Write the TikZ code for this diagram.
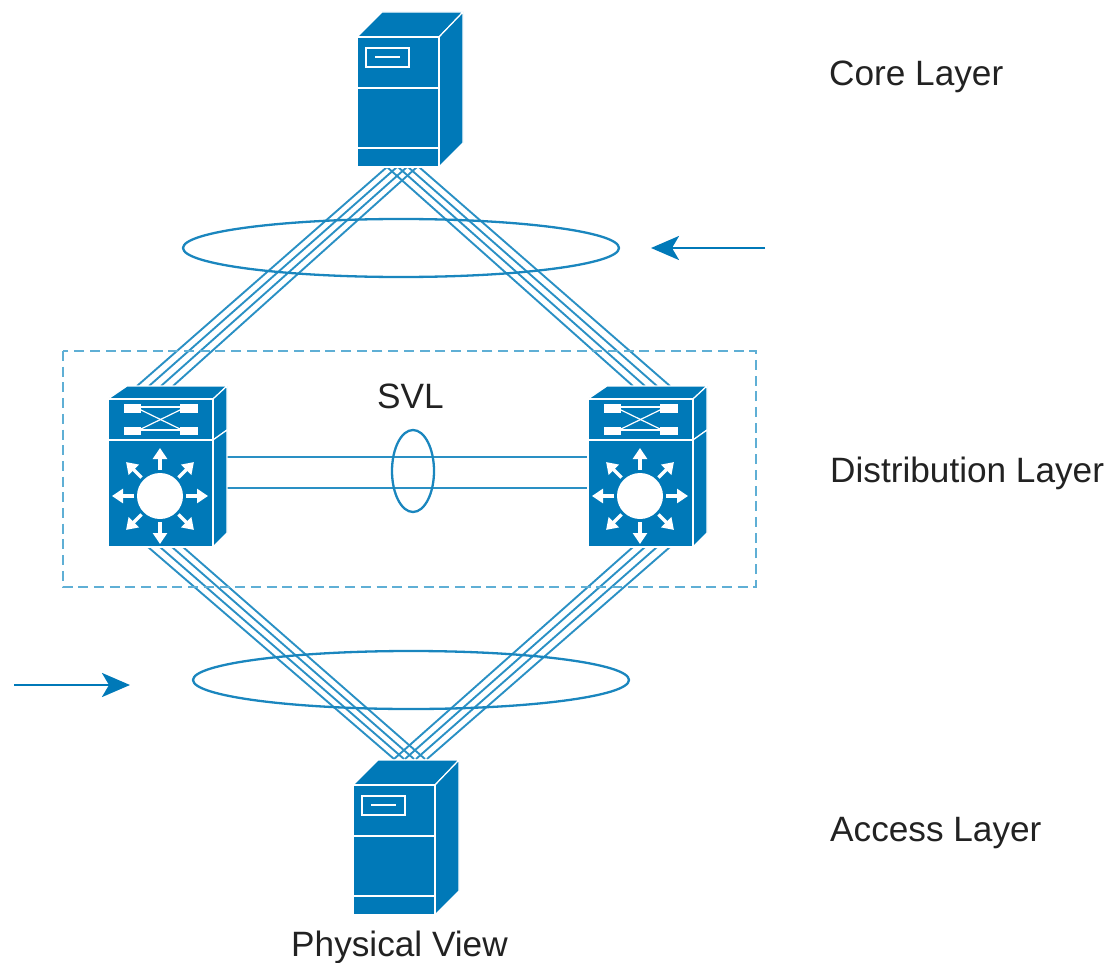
\documentclass[tikz,border=0pt]{standalone}
\usepackage{fontspec}
\setmainfont{Liberation Sans}
\usetikzlibrary{arrows.meta,shapes.geometric,calc}
\definecolor{ciscoblue}{HTML}{0079B8}
\definecolor{linkblue}{HTML}{2A90C4}
\definecolor{ringblue}{HTML}{1A86BE}
\definecolor{dashblue}{HTML}{5FAFD5}
\definecolor{txt}{HTML}{222222}
\tikzset{
  devfill/.style={fill=ciscoblue,draw=white,line width=1.2pt,line join=round},
  wline/.style={draw=white,line width=1.8pt},
  linkline/.style={draw=linkblue,line width=1.9pt},
  ring/.style={draw=ringblue,line width=2.3pt,ellipse,inner sep=0pt,fill=none},
  pointer/.style={draw=ciscoblue,line width=2.8pt,-{Stealth[length=28pt,width=24pt,inset=7pt]}},
  lbl/.style={anchor=base west,inner sep=0pt,text=txt,font=\fontsize{35.2}{40}\selectfont},
  pics/serverbox/.style={code={
    \path[devfill] (0,0) -- (25,-25) -- (106,-25) -- (82,0) -- cycle;
    \path[devfill] (82,0) -- (106,-25) -- (106,106) -- (82,130) -- cycle;
    \path[devfill] (0,0) rectangle (82,130);
    \draw[wline] (0,51) -- (82,51);
    \draw[wline] (0,111) -- (82,111);
    \draw[wline] (9,11) rectangle (52,30);
    \draw[wline] (18,20) -- (43,20);
  }},
  pics/switchbox/.style={code={
    \path[devfill] (0,0) -- (19,-13) -- (119,-13) -- (105,0) -- cycle;
    \path[devfill] (105,0) -- (119,-13) -- (119,31) -- (105,41) -- cycle;
    \path[devfill] (105,41) -- (119,31) -- (119,134) -- (105,148) -- cycle;
    \path[devfill] (0,0) rectangle (105,41);
    \path[devfill] (0,41) rectangle (105,148);
    \fill[white] (16,5) rectangle (33,14);
    \fill[white] (16,28) rectangle (33,36);
    \fill[white] (72,5) rectangle (90,14);
    \fill[white] (72,28) rectangle (90,36);
    \draw[white,line width=1.2pt] (33,8) -- (72,8);
    \draw[white,line width=1.2pt] (33,31) -- (72,31);
    \draw[white,line width=1.2pt] (33,11) -- (72,30);
    \draw[white,line width=1.2pt] (33,30) -- (72,11);
    \fill[white] (52,97) circle (23);
    \foreach \ang in {0,45,...,315}
      \draw[white,line width=3.2pt,-{Triangle[length=11pt,width=14pt]}]
        ($(52,97)+(\ang:26)$) -- ($(52,97)+(\ang:48)$);
  }}
}
\begin{document}
\begin{tikzpicture}[x=1pt,y=-1pt]
\useasboundingbox (0,0) rectangle (1119,963);
% link end points
\foreach \n/\x in {1/387,2/397,3/407,4/417}
  \coordinate (coreL\n) at (\x,167);
\foreach \n/\x in {1/387,2/398,3/408,4/419}
  \coordinate (coreR\n) at (\x,167);
\foreach \n/\x in {1/137,2/149,3/161,4/173}
  \coordinate (distLtop\n) at (\x,386);
\foreach \n/\x in {1/633,2/645,3/657,4/670}
  \coordinate (distRtop\n) at (\x,386);
\foreach \n/\x in {1/148,2/160,3/172,4/183}
  \coordinate (distLbot\n) at (\x,547);
\foreach \n/\x in {1/633,2/645,3/657,4/670}
  \coordinate (distRbot\n) at (\x,547);
\foreach \n/\x in {1/394,2/404,3/414,4/425}
  \coordinate (accL\n) at (\x,759);
\foreach \n/\x in {1/394,2/405,3/416,4/427}
  \coordinate (accR\n) at (\x,759);
\coordinate (svlLa) at (227,457);
\coordinate (svlRa) at (588,457);
\coordinate (svlLb) at (227,488);
\coordinate (svlRb) at (588,488);
\coordinate (arrowAfrom) at (765,248);
\coordinate (arrowAto) at (651,248);
\coordinate (arrowBfrom) at (14,685);
\coordinate (arrowBto) at (130,685);
% links
\foreach \n in {1,2,3,4} {
  \draw[linkline] (coreL\n) -- (distLtop\n);
  \draw[linkline] (coreR\n) -- (distRtop\n);
  \draw[linkline] (distLbot\n) -- (accL\n);
  \draw[linkline] (distRbot\n) -- (accR\n);
}
\draw[linkline] (svlLa) -- (svlRa);
\draw[linkline] (svlLb) -- (svlRb);
% dashed box
\draw[draw=dashblue,line width=2pt,dash pattern=on 10pt off 5.7pt] (63,351) rectangle (756,587);
% rings
\node[ring,minimum width=436pt,minimum height=58pt] (ringtop) at (401,248) {};
\node[ring,minimum width=436pt,minimum height=58pt] (ringbot) at (411,680) {};
\node[ring,minimum width=42pt,minimum height=82pt] (ringsvl) at (413,471) {};
% devices
\pic at (357,37) {serverbox};
\pic at (353,785) {serverbox};
\pic at (108,399) {switchbox};
\pic at (588,399) {switchbox};
% arrows
\draw[pointer] (arrowAfrom) -- (arrowAto);
\draw[pointer] (arrowBfrom) -- (arrowBto);
% labels
\node[lbl] (core) at (829,86) {Core Layer};
\node[lbl] (dist) at (830,482) {Distribution Layer};
\node[lbl] (acc) at (830,841) {Access Layer};
\node[lbl] (svl) at (377,408) {SVL};
\node[lbl] (phys) at (291,956) {Physical View};
\end{tikzpicture}
\end{document}
